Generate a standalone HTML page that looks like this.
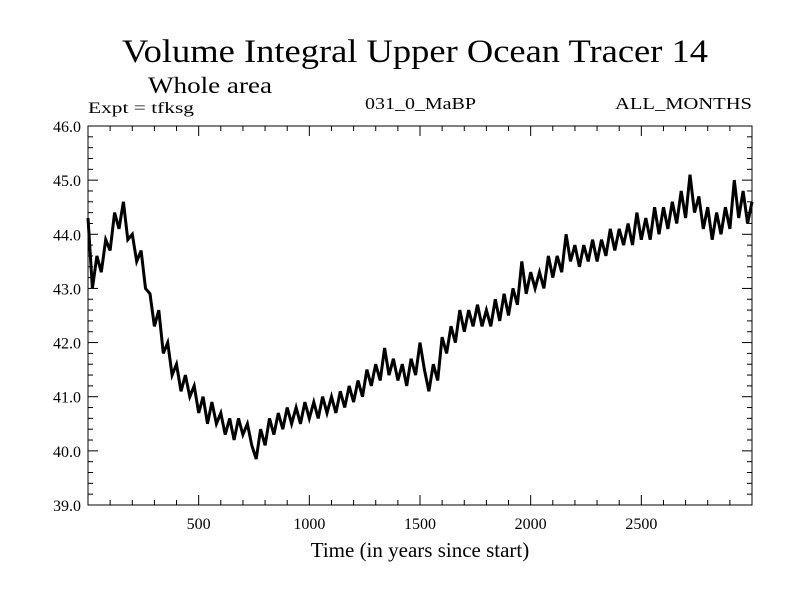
<!DOCTYPE html>
<html><head><meta charset="utf-8"><style>
body{margin:0;background:#fff}
svg text{font-family:"Liberation Serif",serif;fill:#000}
</style></head><body>
<svg id="chart" width="800" height="600" viewBox="0 0 800 600" xmlns="http://www.w3.org/2000/svg">
<rect width="800" height="600" fill="#fff"/>
<text x="122" y="62" font-size="33" textLength="586" lengthAdjust="spacingAndGlyphs">Volume Integral Upper Ocean Tracer 14</text>
<text x="148" y="93" font-size="23" textLength="124" lengthAdjust="spacingAndGlyphs">Whole area</text>
<text x="88" y="113" font-size="16" textLength="106" lengthAdjust="spacingAndGlyphs">Expt = tfksg</text>
<text x="365" y="109" font-size="17" textLength="111" lengthAdjust="spacingAndGlyphs">031_0_MaBP</text>
<text x="615" y="109" font-size="17" textLength="137" lengthAdjust="spacingAndGlyphs">ALL_MONTHS</text>
<g id="axes"></g>
<g id="series"></g>
<rect x="88" y="126" width="664" height="379" fill="none" stroke="#000" stroke-width="1"/>
<text x="420" y="557" font-size="21" text-anchor="middle">Time (in years since start)</text>
</svg>
<script>
const yearStep = 20;
const values = [44.3,43.0,43.6,43.3,43.9,43.7,44.4,44.1,44.6,43.9,44.0,43.5,43.7,43.0,42.9,42.3,42.6,41.8,42.0,41.4,41.6,41.1,41.4,41.0,41.2,40.7,41.0,40.5,40.9,40.5,40.7,40.3,40.6,40.2,40.6,40.3,40.5,40.1,39.85,40.4,40.1,40.6,40.3,40.7,40.4,40.8,40.5,40.8,40.5,40.9,40.6,40.9,40.6,41.0,40.7,41.0,40.7,41.1,40.8,41.2,40.9,41.3,41.0,41.5,41.2,41.6,41.3,41.9,41.4,41.7,41.3,41.6,41.2,41.7,41.4,42.0,41.5,41.1,41.6,41.3,42.1,41.8,42.3,42.0,42.6,42.2,42.6,42.3,42.7,42.3,42.6,42.3,42.8,42.4,42.9,42.5,43.0,42.7,43.5,42.9,43.3,43.0,43.3,43.0,43.6,43.2,43.6,43.3,44.0,43.5,43.8,43.4,43.8,43.5,43.9,43.5,43.9,43.6,44.1,43.7,44.1,43.8,44.2,43.8,44.4,43.9,44.3,43.9,44.5,44.0,44.5,44.1,44.6,44.2,44.8,44.3,45.1,44.4,44.7,44.1,44.5,43.9,44.4,44.0,44.5,44.1,45.0,44.3,44.8,44.2,44.6];
const xTickLabels = [500,1000,1500,2000,2500];
const yTickLabels = [39.0,40.0,41.0,42.0,43.0,44.0,45.0,46.0];
const X0=88, X1=752, Y0=505, Y1=126, XMIN=0, XMAX=3000, YMIN=39, YMAX=46;
function xs(v){return X0+(v-XMIN)/(XMAX-XMIN)*(X1-X0);}
function ys(v){return Y0-(v-YMIN)/(YMAX-YMIN)*(Y0-Y1);}
const NS="http://www.w3.org/2000/svg";
const axes=document.getElementById('axes');
function mk(tag,attrs,parent){const e=document.createElementNS(NS,tag);for(const k in attrs)e.setAttribute(k,attrs[k]);parent.appendChild(e);return e;}
for(let t=100;t<3000;t+=100){
  const len = t%500===0?10:5;
  for(const [yb,dir] of [[Y0,-1],[Y1,1]]){
    const l=mk('line',{x1:xs(t),x2:xs(t),y1:yb,y2:yb+dir*len,stroke:'#000'},axes);
    
    
  }
}
for(let k=1;k<35;k++){
  const v=YMIN+k*0.2; const major=k%5===0; const len=major?10:5;
  for(const [xb,dir] of [[X0,1],[X1,-1]]){
    const l=mk('line',{x1:xb,x2:xb+dir*len,y1:ys(v),y2:ys(v),stroke:'#000'},axes);
    
    
  }
}
xTickLabels.forEach(v=>{
  const t=mk('text',{x:xs(v),y:Y0+24,'font-size':16,'text-anchor':'middle'},axes);
  t.textContent=v;
  
  
});
yTickLabels.forEach(v=>{
  const t=mk('text',{x:81,y:ys(v)+6,'font-size':16,'text-anchor':'end'},axes);
  t.textContent=v.toFixed(1);
  
  
});
const pts=values.map((v,i)=>xs(i*yearStep).toFixed(1)+','+ys(v).toFixed(1)).join(' ');
const line=mk('polyline',{points:pts,fill:'none',stroke:'#000','stroke-width':3,'stroke-linejoin':'miter'},document.getElementById('series'));


</script>
</body></html>
